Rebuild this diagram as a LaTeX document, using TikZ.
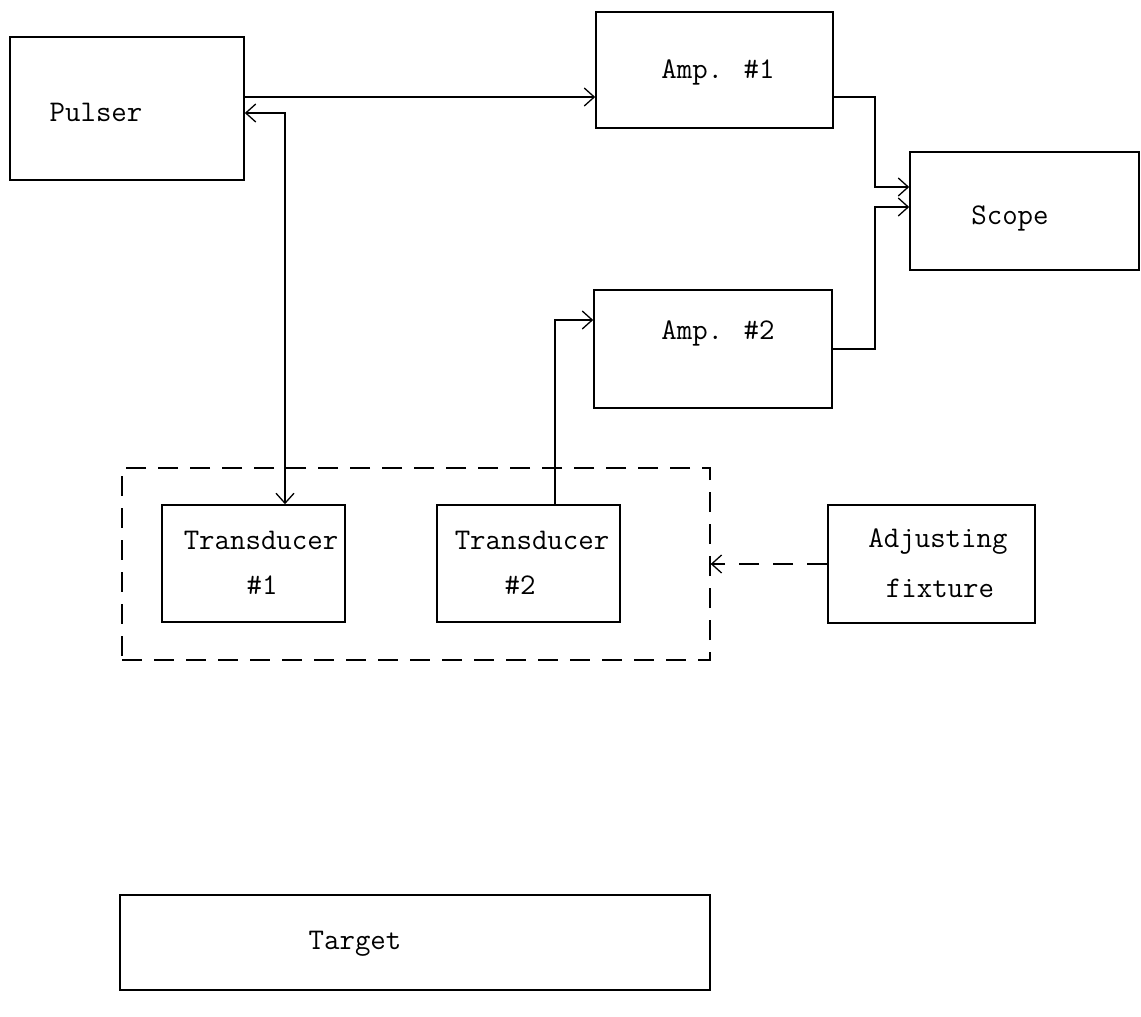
\documentclass[tikz,border=0pt]{standalone}
\usetikzlibrary{arrows.meta}
\begin{document}
\begin{tikzpicture}[x=1pt,y=-1pt,
  box/.style={draw,line width=1.6pt,inner sep=0pt,anchor=center},
  lbl/.style={font=\ttfamily\fontsize{30}{36}\selectfont,inner sep=0pt},
  tip/.style={},
  conn/.style={line width=1.3pt,-{Straight Barb[length=10pt,width=18pt,line width=1.3pt]}},
  bconn/.style={line width=1.3pt,{Straight Barb[length=10pt,width=18pt,line width=1.3pt]}-{Straight Barb[length=10pt,width=18pt,line width=1.3pt]}},
  frame/.style={draw,line width=1.3pt,dash pattern=on 20pt off 12pt,inner sep=0pt}]
\useasboundingbox (0,0) rectangle (1141,1017);
% boxes
\node[box,minimum width=234pt,minimum height=143pt] (pulser) at (127,108.5) {};
\node[box,minimum width=237pt,minimum height=116pt] (amp1) at (714.5,70) {};
\node[box,minimum width=238pt,minimum height=118pt] (amp2) at (713,349) {};
\node[box,minimum width=229pt,minimum height=118pt] (scope) at (1024.5,211) {};
\node[frame,minimum width=588pt,minimum height=192pt] (fr) at (416,564) {};
\node[box,minimum width=183pt,minimum height=117pt] (t1) at (253.5,563.5) {};
\node[box,minimum width=183pt,minimum height=117pt] (t2) at (528.5,563.5) {};
\node[box,minimum width=207pt,minimum height=118pt] (adj) at (931.5,564) {};
\node[box,minimum width=590pt,minimum height=95pt] (target) at (415,942.5) {};
% labels
\node[lbl] (lp) at (96,112) {Pulser};
\node[lbl] (la1) at (718,72) {Amp. \#1};
\node[lbl] (la2) at (718,333) {Amp. \#2};
\node[lbl] (ls) at (1010,218) {Scope};
\node[lbl] (lt1a) at (261,540) {Transducer};
\node[lbl] (lt1b) at (262,585) {\#1};
\node[lbl] (lt2a) at (532,540) {Transducer};
\node[lbl] (lt2b) at (520,585) {\#2};
\node[lbl] (lad1) at (938,542) {Adjusting};
\node[lbl] (lad2) at (940,588) {fixture};
\node[lbl] (lta) at (355,944) {Target};
% junctions
\coordinate (j1) at (875,187);
\coordinate (j2) at (875,207);
% connectors
\draw[conn] ([yshift=11.5]pulser.east) -- ([yshift=-27]amp1.west);
\draw[bconn] ([yshift=-4.5]pulser.east) -| ([xshift=31.5]t1.north);
\draw[conn] ([yshift=-27]amp1.east) -| (j1) -- (j1 -| scope.west);
\draw[conn] (amp2.east) -| (j2) -- (j2 -| scope.west);
\draw[conn] ([xshift=26.5]t2.north) |- ([yshift=29]amp2.west);
\draw[conn,dash pattern=on 20pt off 14pt] (adj.west) -- (adj.west -| fr.east);
\end{tikzpicture}
\end{document}
